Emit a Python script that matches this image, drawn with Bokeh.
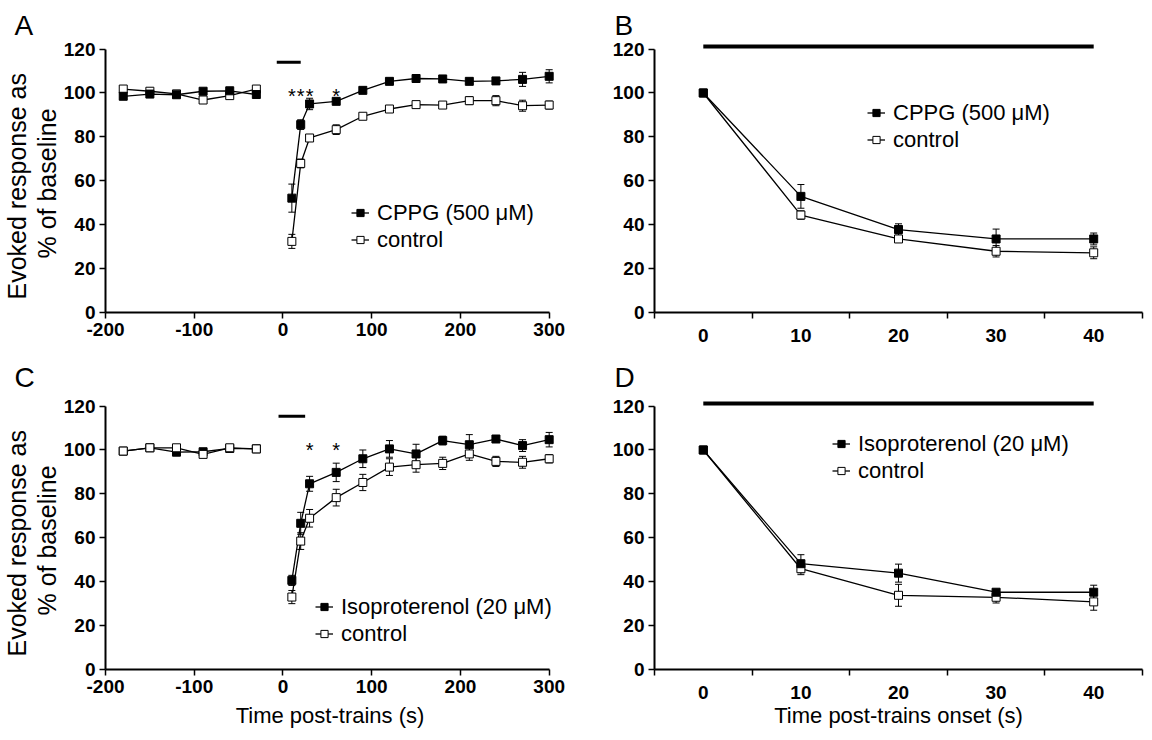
from bokeh.plotting import figure
from bokeh.models import (Range1d, FixedTicker, ColumnDataSource, Whisker, TeeHead,
                          Legend, LegendItem, Title)
from bokeh.layouts import row, column
from bokeh.embed import file_html
from bokeh.resources import INLINE
from bokeh.core.properties import value

FONT = "Liberation Sans"

# ---------------- data ----------------
time_pre = [-180, -150, -120, -90, -60, -30]
time_post = [10, 20, 30, 60, 90, 120, 150, 180, 210, 240, 270, 300]

# Panel A (CPPG)
a_drug_pre = [98.5, 99.5, 99.2, 100.8, 101.0, 99.3]
a_drug_pre_err = [0.8, 0.8, 0.8, 0.8, 0.8, 0.8]
a_ctrl_pre = [101.8, 100.8, 99.6, 96.8, 98.8, 101.8]
a_ctrl_pre_err = [0.8, 0.8, 0.8, 0.8, 0.8, 0.8]
a_drug_post = [52.1, 85.6, 95.0, 96.2, 101.2, 105.3, 106.6, 106.4, 105.3, 105.5, 106.2, 107.6]
a_drug_post_err = [6.4, 2.2, 2.6, 1.2, 1.0, 1.2, 1.5, 1.0, 1.0, 1.2, 3.2, 3.0]
a_ctrl_post = [32.4, 67.9, 79.5, 83.3, 89.4, 92.7, 94.7, 94.5, 96.5, 96.5, 94.2, 94.5]
a_ctrl_post_err = [3.2, 2.0, 1.5, 2.2, 1.2, 1.5, 1.5, 1.0, 1.8, 2.3, 2.5, 1.8]
a_sig_times = [10, 20, 30, 60]
a_train_bar = [-7, 20]

# Panel C (Isoproterenol)
c_drug_pre = [99.5, 101.0, 99.0, 99.2, 100.7, 100.5]
c_drug_pre_err = [1.2, 0.8, 0.8, 1.2, 1.2, 0.8]
c_ctrl_pre = [99.5, 101.0, 101.0, 98.0, 101.0, 100.5]
c_ctrl_pre_err = [1.5, 0.8, 1.0, 1.5, 1.5, 1.0]
c_drug_post = [40.6, 66.6, 84.6, 89.8, 96.0, 100.5, 98.2, 104.3, 102.4, 105.0, 102.0, 104.7]
c_drug_post_err = [2.3, 5.0, 3.4, 4.2, 4.0, 3.8, 4.4, 2.0, 4.6, 1.3, 2.7, 3.3]
c_ctrl_post = [33.0, 58.5, 68.9, 78.3, 85.2, 92.2, 93.3, 93.9, 98.2, 94.8, 94.4, 96.0]
c_ctrl_post_err = [3.0, 3.8, 4.0, 3.8, 3.7, 3.8, 3.4, 2.8, 2.9, 2.3, 2.7, 1.9]
c_sig_times = [30, 60]
c_train_bar = [-5, 25]

# Panels B and D (time post-trains onset)
onset = ["0", "10", "20", "30", "40"]
b_drug = [100, 52.9, 37.8, 33.5, 33.5]
b_drug_err = [0, 5.4, 2.6, 4.5, 2.7]
b_ctrl = [100, 44.4, 33.5, 27.9, 27.2]
b_ctrl_err = [0, 1.9, 1.5, 2.6, 2.7]
d_drug = [100, 48.2, 43.9, 35.2, 35.2]
d_drug_err = [0, 4.1, 4.1, 1.0, 3.2]
d_ctrl = [100, 45.9, 33.8, 32.9, 30.8]
d_ctrl_err = [0, 2.7, 5.0, 2.6, 3.8]
bd_train_bar = ["0", "40"]

y_ticks = [0, 20, 40, 60, 80, 100, 120]
a_x_ticks = [-200, -100, 0, 100, 200, 300]
a_x_labels = ["-200", "-100", "0", "100", "200", "300"]

FRAME_H = 270

# ---------------- helpers ----------------
def base_fig(x_range, frame_w, border_left, border_right, border_top, border_bottom):
    p = figure(frame_width=frame_w, frame_height=FRAME_H,
               x_range=x_range, y_range=Range1d(0, 123),
               output_backend="svg", toolbar_location=None,
               min_border_left=border_left, min_border_right=border_right,
               min_border_top=border_top, min_border_bottom=border_bottom)
    p.outline_line_color = None
    p.xgrid.visible = False
    p.ygrid.visible = False
    p.background_fill_color = "white"
    for ax in (p.xaxis[0], p.yaxis[0]):
        ax.axis_line_width = 2
        ax.axis_line_color = "black"
        ax.major_tick_line_width = 1.5
        ax.major_tick_line_color = "black"
        ax.major_tick_in = 0
        ax.major_tick_out = 6
        ax.minor_tick_line_color = None
        ax.major_label_text_font = FONT
        ax.major_label_text_font_style = "bold"
        ax.major_label_text_font_size = "19px"
        ax.major_label_text_color = "black"
        ax.major_label_standoff = 4
        ax.axis_label_text_font = FONT
        ax.axis_label_text_font_style = "normal"
        ax.axis_label_text_font_size = "22px"
        ax.axis_label_text_color = "black"
        ax.axis_label_standoff = 7
    p.yaxis[0].ticker = FixedTicker(ticks=y_ticks)
    p.yaxis[0].bounds = (0, 120)
    return p


def series(p, xs, ys, errs, filled):
    src = ColumnDataSource(dict(x=xs, y=ys,
                                lo=[y - e for y, e in zip(ys, errs)],
                                hi=[y + e for y, e in zip(ys, errs)]))
    w = Whisker(source=src, base="x", lower="lo", upper="hi",
                line_color="black", line_width=1,
                upper_head=TeeHead(size=7, line_color="black", line_width=1),
                lower_head=TeeHead(size=7, line_color="black", line_width=1))
    p.add_layout(w)
    l = p.line("x", "y", source=src, line_color="black", line_width=1.3)
    s = p.scatter("x", "y", source=src, marker="square", size=8,
                  fill_color="black" if filled else "white",
                  line_color="black", line_width=1)
    return l, s


def add_legend(p, drug_label, r_drug, r_ctrl, loc):
    leg = Legend(items=[LegendItem(label=drug_label, renderers=list(r_drug)),
                        LegendItem(label="control", renderers=list(r_ctrl))],
                 location=loc, padding=0, margin=0, spacing=0,
                 glyph_width=18, glyph_height=27, label_height=27, label_standoff=8,
                 label_text_font=FONT, label_text_font_size="22px",
                 label_text_color="black",
                 background_fill_alpha=0, border_line_color=None)
    p.add_layout(leg)


def add_letter(p, letter, offset, standoff):
    p.add_layout(Title(text=letter, align="left", offset=offset, standoff=standoff,
                       text_font=FONT, text_font_size="28px",
                       text_font_style="normal", text_color="black"), "above")


def add_ytitle(p):
    for txt, off in [("% of baseline", 54), ("Evoked response as", 13)]:
        p.add_layout(Title(text=txt, align="left", offset=off, standoff=0,
                           text_font=FONT, text_font_size="25px",
                           text_font_style="normal", text_color="black"), "left")


def time_panel(letter, drug_label, drug_pre, drug_pre_err, ctrl_pre, ctrl_pre_err,
               drug_post, drug_post_err, ctrl_post, ctrl_post_err,
               sig_times, train_bar, train_y, sig_y, legend_loc, top, bottom,
               letter_standoff, xlabel, ctrl_on_top):
    p = base_fig(Range1d(-200, 306), 449, 104, 50, top, bottom)
    p.xaxis[0].ticker = FixedTicker(ticks=a_x_ticks)
    p.xaxis[0].major_label_overrides = {t: lab for t, lab in zip(a_x_ticks, a_x_labels)}
    p.xaxis[0].bounds = (-200, 300)
    add_ytitle(p)
    if xlabel:
        p.xaxis[0].axis_label = xlabel
    add_letter(p, letter, -91, letter_standoff)
    p.line(train_bar, [train_y, train_y], line_color="black", line_width=3)
    if ctrl_on_top:
        d1 = series(p, time_pre, drug_pre, drug_pre_err, True)
        d2 = series(p, time_post, drug_post, drug_post_err, True)
        c1 = series(p, time_pre, ctrl_pre, ctrl_pre_err, False)
        c2 = series(p, time_post, ctrl_post, ctrl_post_err, False)
    else:
        c1 = series(p, time_pre, ctrl_pre, ctrl_pre_err, False)
        c2 = series(p, time_post, ctrl_post, ctrl_post_err, False)
        d1 = series(p, time_pre, drug_pre, drug_pre_err, True)
        d2 = series(p, time_post, drug_post, drug_post_err, True)
    p.text(x=sig_times, y=[sig_y] * len(sig_times), text=["*"] * len(sig_times),
           text_font=value(FONT), text_font_size="20px", text_align="center",
           text_baseline="middle", text_color="black")
    add_legend(p, drug_label, d2, c2, legend_loc)
    return p


def onset_panel(letter, drug_label, drug, drug_err, ctrl, ctrl_err, legend_loc,
                top, bottom, letter_standoff, xlabel):
    p = base_fig(Range1d(0, len(onset)), 488, 50, 5, top, bottom)
    centers = [i + 0.5 for i in range(len(onset))]
    p.xaxis[0].ticker = FixedTicker(ticks=centers,
                                    minor_ticks=list(range(len(onset) + 1)))
    p.xaxis[0].major_label_overrides = {c: lab for c, lab in zip(centers, onset)}
    p.xaxis[0].major_tick_out = 0
    p.xaxis[0].minor_tick_line_color = "black"
    p.xaxis[0].minor_tick_line_width = 1.5
    p.xaxis[0].minor_tick_in = 0
    p.xaxis[0].minor_tick_out = 6
    p.xaxis[0].major_label_standoff = 10
    p.xaxis[0].axis_label_standoff = 1
    p.xaxis[0].bounds = (0, len(onset))
    if xlabel:
        p.xaxis[0].axis_label = xlabel
    add_letter(p, letter, -40, letter_standoff)
    bx = [onset.index(v) + 0.5 for v in bd_train_bar]
    p.line(bx, [121.2, 121.2], line_color="black", line_width=4)
    c = series(p, centers, ctrl, ctrl_err, False)
    d = series(p, centers, drug, drug_err, True)
    add_legend(p, drug_label, d, c, legend_loc)
    return p


pA = time_panel("A", "CPPG (500 \u03bcM)", a_drug_pre, a_drug_pre_err, a_ctrl_pre, a_ctrl_pre_err,
                a_drug_post, a_drug_post_err, a_ctrl_post, a_ctrl_post_err,
                a_sig_times, a_train_bar, 114.0, 98.5, (246, 59), 42, 40, 3, None, False)
pB = onset_panel("B", "CPPG (500 \u03bcM)", b_drug, b_drug_err, b_ctrl, b_ctrl_err,
                 (213, 159), 42, 40, 3, None)
pC = time_panel("C", "Isoproterenol (20 \u03bcM)", c_drug_pre, c_drug_pre_err, c_ctrl_pre, c_ctrl_pre_err,
                c_drug_post, c_drug_post_err, c_ctrl_post, c_ctrl_post_err,
                c_sig_times, c_train_bar, 115.4, 99.8, (210, 22), 47, 62, 13,
                "Time post-trains (s)", True)
pD = onset_panel("D", "Isoproterenol (20 \u03bcM)", d_drug, d_drug_err, d_ctrl, d_ctrl_err,
                 (178, 185), 47, 62, 13, "Time post-trains onset (s)")

layout = column(row(pA, pB, spacing=0), row(pC, pD, spacing=0), spacing=0)
open("out.html", "w").write(file_html(layout, INLINE))
